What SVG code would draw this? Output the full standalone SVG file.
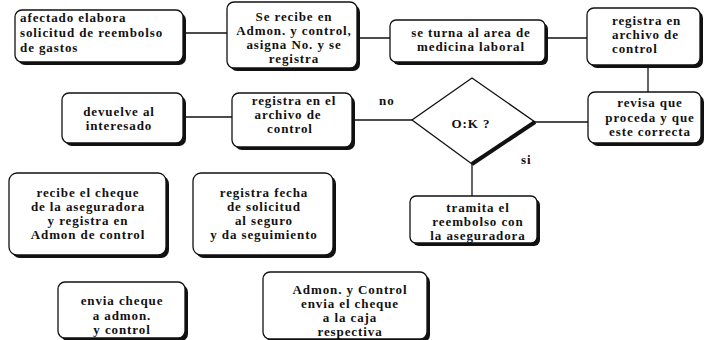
<svg xmlns="http://www.w3.org/2000/svg" width="708" height="340" viewBox="0 0 708 340">
<style>
.sh{fill:#111}
.bx{fill:#fff;stroke:#111;stroke-width:1.3}
.t{font-family:"Liberation Serif","Times New Roman",serif;font-weight:bold;font-size:13px;letter-spacing:0.9px;fill:#111}
.c{text-anchor:middle}
.ln{stroke:#111;stroke-width:1.3;fill:none}
</style>
<rect width="708" height="340" fill="#fff"/>
<g id="connectors">
<line class="ln" x1="183" y1="33" x2="227" y2="33"/>
<line class="ln" x1="357" y1="38" x2="390" y2="38"/>
<line class="ln" x1="545" y1="38" x2="587" y2="38"/>
<line class="ln" x1="648" y1="65" x2="648" y2="92"/>
<line class="ln" x1="535" y1="122" x2="588" y2="122"/>
<line class="ln" x1="352" y1="120" x2="412" y2="120"/>
<line class="ln" x1="183" y1="117" x2="232" y2="117"/>
<line class="ln" x1="472" y1="164" x2="472" y2="196"/>
<text class="t" x="379" y="105">no</text>
<text class="t" x="521" y="164">si</text>
</g>
<g id="n1">
<rect class="sh" x="18" y="13" width="168" height="52" rx="7"/>
<rect class="bx" x="15" y="10" width="168" height="52" rx="7"/>
<text class="t" x="20" y="22">afectado elabora</text>
<text class="t" x="20" y="37">solicitud de reembolso</text>
<text class="t" x="20" y="52">de gastos</text>
</g>
<g id="n2">
<rect class="sh" x="230" y="5" width="130" height="66" rx="7"/>
<rect class="bx" x="227" y="2" width="130" height="66" rx="7"/>
<g class="t c">
<text x="294" y="21">Se recibe en</text>
<text x="294" y="35">Admon. y control,</text>
<text x="294" y="49">asigna No. y se</text>
<text x="294" y="63">registra</text>
</g>
</g>
<g id="n3">
<rect class="sh" x="393" y="23" width="155" height="42" rx="6"/>
<rect class="bx" x="390" y="20" width="155" height="42" rx="6"/>
<g class="t c">
<text x="471" y="37">se turna al area de</text>
<text x="471" y="51">medicina laboral</text>
</g>
</g>
<g id="n4">
<rect class="sh" x="590" y="11" width="113" height="57" rx="7"/>
<rect class="bx" x="587" y="8" width="113" height="57" rx="7"/>
<text class="t" x="612" y="25">registra en</text>
<text class="t" x="612" y="39">archivo de</text>
<text class="t" x="612" y="53">control</text>
</g>
<g id="n5">
<rect class="sh" x="591" y="95" width="113" height="51" rx="7"/>
<rect class="bx" x="588" y="92" width="113" height="51" rx="7"/>
<g class="t c">
<text x="650" y="107">revisa que</text>
<text x="650" y="122">proceda y que</text>
<text x="650" y="136">este correcta</text>
</g>
</g>
<g id="n6">
<polygon points="472,78 535,122 472,164 412,120" fill="#fff" stroke="#111" stroke-width="1.3"/>
<polyline points="535,122 472,164" fill="none" stroke="#111" stroke-width="4"/>
<text class="t c" x="471" y="128">O:K ?</text>
</g>
<g id="n7">
<rect class="sh" x="413" y="199" width="127" height="47" rx="6"/>
<rect class="bx" x="410" y="196" width="127" height="47" rx="6"/>
<g class="t c">
<text x="478" y="212">tramita el</text>
<text x="478" y="226">reembolso con</text>
<text x="478" y="240">la aseguradora</text>
</g>
</g>
<g id="n8">
<rect class="sh" x="65" y="96" width="121" height="50" rx="7"/>
<rect class="bx" x="62" y="93" width="121" height="50" rx="7"/>
<g class="t c">
<text x="119" y="116">devuelve al</text>
<text x="119" y="130">interesado</text>
</g>
</g>
<g id="n9">
<rect class="sh" x="235" y="96" width="120" height="54" rx="7"/>
<rect class="bx" x="232" y="93" width="120" height="54" rx="7"/>
<g class="t c">
<text x="294" y="105">registra en el</text>
<text x="288" y="119">archivo de</text>
<text x="290" y="133">control</text>
</g>
</g>
<g id="n10">
<rect class="sh" x="12" y="176" width="157" height="82" rx="8"/>
<rect class="bx" x="9" y="173" width="157" height="82" rx="8"/>
<g class="t c">
<text x="88" y="197">recibe el cheque</text>
<text x="88" y="211">de la aseguradora</text>
<text x="88" y="225">y registra en</text>
<text x="88" y="239">Admon de control</text>
</g>
</g>
<g id="n11">
<rect class="sh" x="196" y="176" width="140" height="82" rx="8"/>
<rect class="bx" x="193" y="173" width="140" height="82" rx="8"/>
<g class="t c">
<text x="264" y="197">registra fecha</text>
<text x="264" y="211">de solicitud</text>
<text x="264" y="225">al seguro</text>
<text x="264" y="239">y da seguimiento</text>
</g>
</g>
<g id="n12">
<rect class="sh" x="61" y="285" width="127" height="56" rx="7"/>
<rect class="bx" x="58" y="282" width="127" height="56" rx="7"/>
<g class="t c">
<text x="122" y="305">envia cheque</text>
<text x="122" y="320">a admon.</text>
<text x="122" y="334">y control</text>
</g>
</g>
<g id="n13">
<rect class="sh" x="266" y="275" width="164" height="67" rx="7"/>
<rect class="bx" x="263" y="272" width="164" height="67" rx="7"/>
<g class="t c">
<text x="350" y="294">Admon. y Control</text>
<text x="350" y="308">envia el cheque</text>
<text x="350" y="322">a la caja</text>
<text x="350" y="336">respectiva</text>
</g>
</g>
</svg>
